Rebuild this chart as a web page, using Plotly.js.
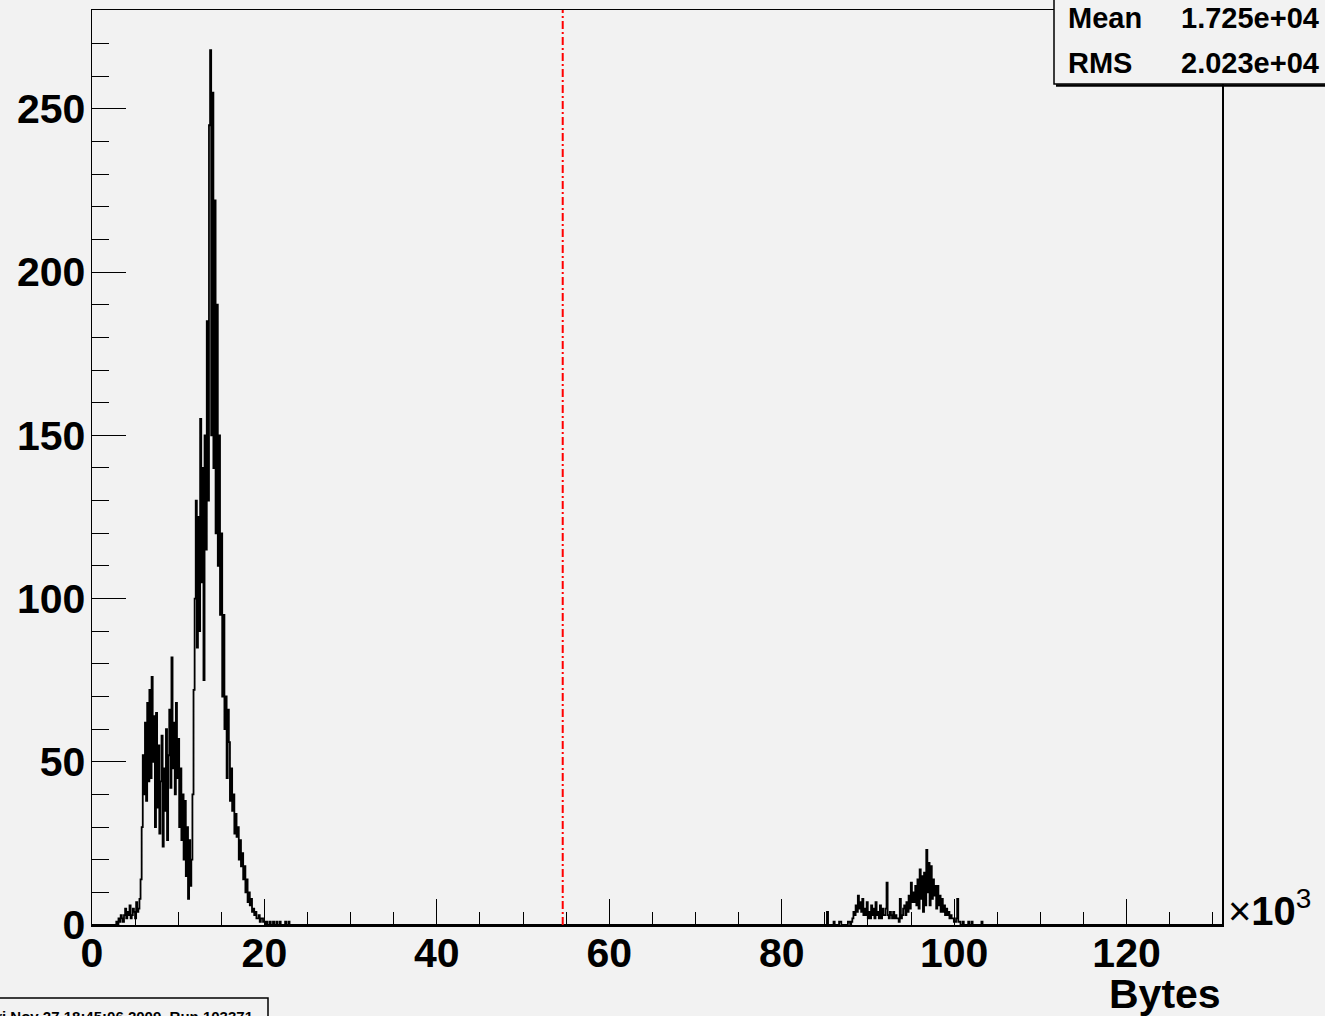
<!DOCTYPE html>
<html><head><meta charset="utf-8">
<script src="https://cdn.plot.ly/plotly-3.0.1.min.js"></script>
<style>html,body{margin:0;padding:0;background:#f2f2f2;}</style>
</head><body><div id="chart" style="width:1325px;height:1016px;"></div>
<script>
// ---- data ----
const binWidthBytes = 128;
const nBins = 1024;             // 0 .. 131072 bytes
const seg1FirstBin = 20;        // starts at 2560 bytes
const seg1Counts = [
  0,0, 1,0, 2,1, 3,2, 1,3, 5,2, 4,3, 6,2, 3,5, 4,2, 7,4, 5,8,
  14,30, 52,40, 62,38, 68,44, 72,45, 76,50, 64,30, 65,36, 55,28, 44,58, 24,48,
  35,60, 26,52, 66,42, 82,48, 62,40, 68,45, 57,30,
  48,26, 40,20, 38,15, 30,8, 26,12, 20,40,
  72,100, 130,85, 125,90, 155,105, 140,75, 150,115, 185,130, 245,268, 150,255,
  140,222, 120,190, 110,150, 95,120, 70,95, 60,70,
  45,66, 56,38, 48,35, 40,28, 34,27, 30,20, 26,18, 22,14, 18,10, 14,7,
  10,6, 8,4, 5,3, 4,2, 2,3, 1,2, 2,1,
  1,0, 1,0, 0,1, 0,0, 1,0, 0,1, 0,0, 1,0, 0,0, 0,1, 0,0, 1,0];
const seg2FirstBin = 664;       // starts at 84992 bytes
const seg2Counts = [
  0,0, 4,0, 0,0, 0,0, 1,0, 0,0, 0,1, 1,0, 0,0, 0,0, 0,1, 1,0,
  1,2, 4,3, 6,4, 9,5, 7,4, 8,3, 5,3, 7,2, 4,2, 6,3, 5,2, 7,3,
  4,2, 6,2, 5,3, 3,5, 13,3, 2,4, 3,2, 4,2, 3,2, 2,1, 8,2, 3,5,
  6,3, 7,4, 9,5, 13,7, 10,7, 12,6, 14,5, 17,8, 15,4, 16,6, 23,10, 19,6,
  18,8, 14,9, 12,5, 12,6, 9,4, 8,4, 6,3, 5,3, 4,2, 3,2, 2,1, 1,2,
  8,1, 1,0, 0,1, 0,0, 0,0, 1,0, 0,1, 0,0, 0,0, 0,0, 0,0, 1,0, 0,0];
const thresholdKBytes = 54.6;
const statLabels = ["Mean", "RMS"];
const statValues = ["1.725e+04", "2.023e+04"];
const xTickVals = [0, 20, 40, 60, 80, 100, 120];
const yTickVals = [0, 50, 100, 150, 200, 250];
const xAxisTitle = "Bytes";
const xScaleLabel = "\u00d7<b>10</b><sup>3</sup>";
const dateRunLabel = "Fri Nov 27 18:45:06 2009, Run 103371";

// ---- build histogram ----
const counts = new Array(nBins).fill(0);
seg1Counts.forEach((c, i) => { counts[seg1FirstBin + i] = c; });
seg2Counts.forEach((c, i) => { counts[seg2FirstBin + i] = c; });
const xs = [], ys = [];
for (let b = 0; b < nBins; b++) { xs.push(b * binWidthBytes / 1000); ys.push(counts[b]); }
xs.push(nBins * binWidthBytes / 1000); ys.push(counts[nBins - 1]);

const W = 1325, H = 1016, L = 92, R = 1222, T = 10, B = 925;
const px = v => (v - L) / (R - L);
const py = v => (B - v) / (B - T);

const boldFont = {family: "Liberation Sans, Arial, sans-serif", weight: "bold", color: "#000"};

const trace = {
  type: "scatter", mode: "lines", x: xs, y: ys,
  line: {shape: "hv", color: "#000", width: 1.8, simplify: false},
  hoverinfo: "skip", showlegend: false
};

const annotations = [
  {xref: "paper", yref: "paper", x: px(1223), y: py(994), xanchor: "right", yanchor: "middle",
   text: "<b>" + xAxisTitle + "</b>", showarrow: false, font: Object.assign({}, boldFont, {size: 41})},
  {xref: "paper", yref: "paper", x: px(1226), y: py(908), xanchor: "left", yanchor: "middle",
   text: xScaleLabel, showarrow: false, font: {family: "Liberation Sans, Arial, sans-serif", size: 40, color: "#000"}},
  {xref: "paper", yref: "paper", x: px(255), y: py(1017), xanchor: "right", yanchor: "middle",
   text: "<b>" + dateRunLabel + "</b>", showarrow: false, font: Object.assign({}, boldFont, {size: 15})}
];
const rowY = [18, 63];
statLabels.forEach((lab, i) => {
  annotations.push({xref: "paper", yref: "paper", x: px(1066), y: py(rowY[i]), xanchor: "left", yanchor: "middle",
    text: "<b>" + lab + "</b>", showarrow: false, font: Object.assign({}, boldFont, {size: 29})});
  annotations.push({xref: "paper", yref: "paper", x: px(1321), y: py(rowY[i]), xanchor: "right", yanchor: "middle",
    text: "<b>" + statValues[i] + "</b>", showarrow: false, font: Object.assign({}, boldFont, {size: 29})});
});

const shapes = [
  {type: "line", xref: "x", yref: "paper", x0: thresholdKBytes, x1: thresholdKBytes, y0: 0, y1: 1,
   line: {color: "#ff0000", width: 2, dash: "8px,3px,2px,3px"}},
  {type: "rect", xref: "paper", yref: "paper", x0: px(1054), x1: px(1340), y0: py(84), y1: py(-10),
   fillcolor: "#f2f2f2", line: {color: "#000", width: 1.5}},
  {type: "line", xref: "paper", yref: "paper", x0: px(1056), x1: px(1340), y0: py(85.5), y1: py(85.5),
   line: {color: "#000", width: 2.5}},
  {type: "rect", xref: "paper", yref: "paper", x0: px(-10), x1: px(268), y0: py(1030), y1: py(998),
   fillcolor: "#f2f2f2", line: {color: "#000", width: 1.5}}
];

const layout = {
  width: W, height: H,
  margin: {l: L, r: W - R, t: T, b: H - B, pad: 0},
  paper_bgcolor: "#f2f2f2", plot_bgcolor: "#f2f2f2",
  showlegend: false,
  xaxis: {
    range: [0, nBins * binWidthBytes / 1000], tickmode: "array", tickvals: xTickVals,
    ticks: "inside", ticklen: 26, tickwidth: 1, tickcolor: "#000",
    showline: true, linecolor: "#000", linewidth: 1.5, mirror: true,
    showgrid: false, zeroline: false, ticklabelstandoff: -9,
    tickfont: Object.assign({}, boldFont, {size: 41}),
    minor: {tick0: 0, dtick: 5, ticks: "inside", ticklen: 13, tickwidth: 1, tickcolor: "#000", showgrid: false}
  },
  yaxis: {
    range: [0, 280.3], tickmode: "array", tickvals: yTickVals,
    ticks: "inside", ticklen: 34, tickwidth: 1, tickcolor: "#000",
    showline: true, linecolor: "#000", linewidth: 1.5, mirror: true,
    showgrid: false, zeroline: false, ticklabelstandoff: -3,
    tickfont: Object.assign({}, boldFont, {size: 41}),
    minor: {tick0: 0, dtick: 10, ticks: "inside", ticklen: 17, tickwidth: 1, tickcolor: "#000", showgrid: false}
  },
  shapes: shapes,
  annotations: annotations
};

Plotly.newPlot("chart", [trace], layout, {staticPlot: true, displayModeBar: false});
</script>
</body></html>
